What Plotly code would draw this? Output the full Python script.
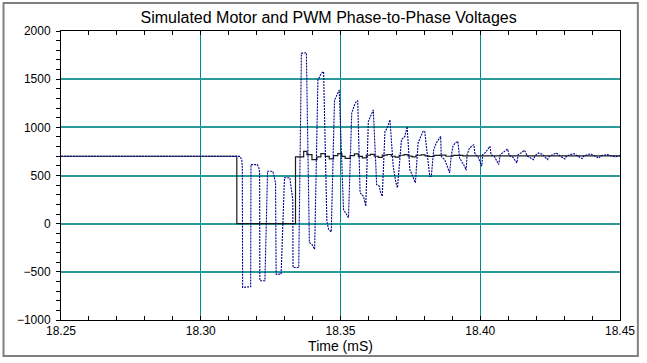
import plotly.graph_objects as go

# ---- data ----
# Motor phase-to-phase voltage (blue, dotted)
motor_t = [18.25, 18.31406, 18.31466, 18.31487, 18.31498, 18.31786, 18.31797, 18.32021, 18.32082, 18.32107,
           18.32114, 18.32295, 18.32391, 18.32580, 18.32676, 18.32697, 18.32875, 18.32996, 18.33185, 18.33292,
           18.33302, 18.33505, 18.33601, 18.33779, 18.33886, 18.33979, 18.34075, 18.34192, 18.34313, 18.34395,
           18.34512, 18.34573, 18.34669, 18.34786, 18.34847, 18.34929, 18.34954, 18.35107, 18.35189, 18.35285,
           18.35402, 18.35523, 18.35616, 18.35701, 18.35820, 18.35905, 18.35996, 18.36114, 18.36174, 18.36270,
           18.36292, 18.36388, 18.36434, 18.36495, 18.36591, 18.36673, 18.36769, 18.36886, 18.36947, 18.36982,
           18.37039, 18.37181, 18.37302, 18.37384, 18.37480, 18.37573, 18.37680, 18.37776, 18.37954, 18.38014,
           18.38132, 18.38192, 18.38249, 18.38335, 18.38427, 18.38584, 18.38605, 18.38726, 18.38819, 18.38904,
           18.38961, 18.39021, 18.39103, 18.39199, 18.39260, 18.39342, 18.39438, 18.39495, 18.39530, 18.39616,
           18.39769, 18.39815, 18.39911, 18.40007, 18.40053, 18.40089, 18.40171, 18.40349, 18.40384, 18.40505,
           18.40598, 18.40658, 18.40719, 18.40801, 18.40979, 18.41039, 18.41157, 18.41310, 18.41359, 18.41452,
           18.41584, 18.41690, 18.41797, 18.41904, 18.41957, 18.42082, 18.42224, 18.42402, 18.42473, 18.42722,
           18.42865, 18.43032, 18.43096, 18.43352, 18.43470, 18.43648, 18.43719, 18.43944, 18.44075, 18.44242,
           18.44324, 18.44537, 18.44680, 18.44833, 18.45]
motor_v = [700, 699, 665, 596, -662, -655, 613, 613, 579, 527,
           -593, -593, 544, 544, 424, -524, -524, 476, 476, 251,
           -455, -455, 1768, 1775, -196, -215, -266, 1492, 1561, 1578,
           27, -59, -87, 1285, 1320, 1371, 1389, 148, 114, 62,
           1148, 1251, 1278, 320, 285, 182, 1061, 1148, 1182, 562,
           406, 389, 321, 285, 958, 993, 1079, 596, 458, 424,
           372, 872, 906, 1009, 562, 492, 424, 838, 958, 958,
           665, 492, 492, 768, 838, 906, 699, 665, 596, 527,
           699, 803, 838, 855, 682, 648, 596, 554, 717, 786,
           820, 717, 699, 631, 596, 717, 734, 803, 717, 699,
           648, 613, 717, 734, 775, 706, 693, 631, 717, 734,
           761, 699, 682, 665, 706, 734, 720, 665, 700, 734,
           700, 672, 705, 728, 705, 675, 705, 725, 705, 682,
           705, 717, 705, 695, 706]

# PWM phase-to-phase voltage (black, stepped)
pwm_t = [18.25, 18.3129, 18.3339, 18.33683, 18.33801, 18.33979, 18.34157, 18.34299, 18.34456, 18.34598,
         18.34751, 18.34904, 18.35046, 18.35167, 18.35345, 18.35498, 18.35641, 18.35783, 18.35925, 18.36068,
         18.36210, 18.36352, 18.36495, 18.36673, 18.36815, 18.36957, 18.37100, 18.37278, 18.37420, 18.37562,
         18.37705, 18.37883, 18.38025, 18.38167, 18.38345, 18.38559, 18.38772, 18.39021, 18.39377, 18.45]
pwm_v = [700, 0, 693, 751, 717, 665, 693, 727, 699, 672,
         706, 727, 699, 678, 706, 724, 699, 682, 710, 720,
         700, 688, 712, 718, 700, 690, 710, 716, 702, 694,
         710, 714, 704, 697, 708, 712, 700, 708, 704, 706]

x_range = [18.25, 18.45]
y_range = [-1000, 2000]
title_text = "Simulated Motor and PWM Phase-to-Phase Voltages"
x_title = "Time (mS)"

FONT = "Arial, Liberation Sans, sans-serif"
GRID = "#008a8a"
GRID_H = "#2a9a9a"

fig = go.Figure()
fig.add_trace(go.Scatter(x=pwm_t, y=pwm_v, mode="lines", line=dict(color="#1a1a1a", width=1.2, shape="hv"),
                         showlegend=False, hoverinfo="skip"))
fig.add_trace(go.Scatter(x=motor_t, y=motor_v, mode="lines",
                         line=dict(color="#00008c", width=1.1, dash="2px,1px"),
                         showlegend=False, hoverinfo="skip"))

tickfont = dict(family=FONT, size=12, color="#000000")

fig.update_xaxes(range=x_range, tick0=18.25, dtick=0.05, tickformat=".2f", ticks="inside",
                 showline=True, linecolor="#000000", linewidth=1, mirror="ticks",
                 showgrid=True, gridcolor=GRID, gridwidth=1, zeroline=False,
                 tickfont=tickfont, ticklen=4, tickcolor="#000000", tickwidth=1,
                 minor=dict(dtick=0.01, ticks="inside", ticklen=4, tickcolor="#000000", showgrid=False),
                 title=dict(text=x_title, font=dict(family=FONT, size=14, color="#000000"), standoff=3))
fig.update_yaxes(range=y_range, tick0=0, dtick=500, ticks="outside",
                 showline=True, linecolor="#000000", linewidth=1, mirror=True,
                 showgrid=True, gridcolor=GRID_H, gridwidth=2, zeroline=False,
                 tickfont=tickfont, ticklen=4, tickcolor="#000000", tickwidth=1,
                 minor=dict(dtick=100, ticks="outside", ticklen=4, tickcolor="#000000", showgrid=False),
                 ticklabelstandoff=3)

fig.add_shape(type="rect", xref="paper", yref="paper",
              x0=(3 - 61) / 564, x1=(643 - 61) / 564, y0=(321 - 357) / 290, y1=(321 - 3) / 290,
              line=dict(color="#808080", width=2), fillcolor="rgba(0,0,0,0)", layer="below")

fig.update_layout(
    width=647, height=363,
    margin=dict(l=61, r=22, t=31, b=42),
    paper_bgcolor="white", plot_bgcolor="white",
    title=dict(text=title_text, x=(331 - 61) / 564, xref="paper", xanchor="center",
               y=1 - 17 / 363, yref="container", yanchor="middle",
               font=dict(family=FONT, size=16, color="#000000")),
    font=dict(family=FONT),
)

fig.write_html("out.html")
